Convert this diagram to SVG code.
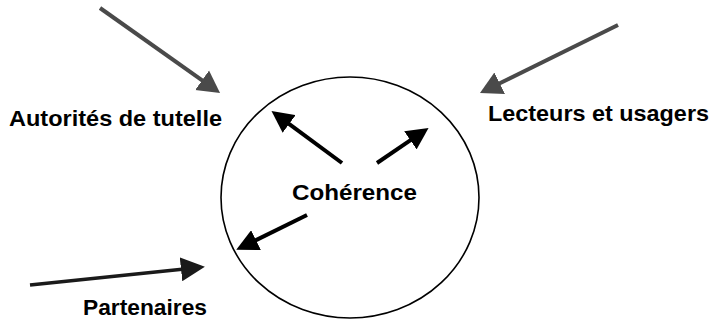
<svg xmlns="http://www.w3.org/2000/svg" width="714" height="321" viewBox="0 0 714 321">
<style>
.lbl{font-family:"Liberation Sans",Arial,sans-serif;font-weight:bold;font-size:22.5px;fill:#000}
.gray{stroke:#4a4a4a;stroke-width:4;fill:none}
.blk{stroke:#000;stroke-width:4;fill:none}
.dark{stroke:#1a1a1a;stroke-width:3.5;fill:none}
</style>
<defs>
<marker id="hg" markerUnits="userSpaceOnUse" markerWidth="24" markerHeight="26" refX="1" refY="12" orient="auto" viewBox="0 0 24 24">
<path d="M0,0 L22,12 L0,24 z" fill="#4a4a4a"/>
</marker>
<marker id="hb" markerUnits="userSpaceOnUse" markerWidth="22" markerHeight="22" refX="1" refY="10" orient="auto" viewBox="0 0 20 20">
<path d="M0,0 L20,10 L0,20 z" fill="#000"/>
</marker>
<marker id="hd" markerUnits="userSpaceOnUse" markerWidth="24" markerHeight="24" refX="1" refY="11" orient="auto" viewBox="0 0 22 22">
<path d="M0,0 L22,11 L0,22 z" fill="#1a1a1a"/>
</marker>
</defs>
<rect width="714" height="321" fill="#fff"/>
<g id="coherence">
<ellipse cx="350" cy="197.5" rx="129" ry="120.5" fill="none" stroke="#000" stroke-width="1.6"/>
<text class="lbl" x="292" y="200" textLength="125" lengthAdjust="spacingAndGlyphs">Cohérence</text>
</g>
<g id="autorites">
<text class="lbl" x="9" y="126" textLength="213" lengthAdjust="spacingAndGlyphs">Autorités de tutelle</text>
</g>
<g id="lecteurs">
<text class="lbl" x="488" y="121" textLength="221" lengthAdjust="spacingAndGlyphs">Lecteurs et usagers</text>
</g>
<g id="partenaires">
<text class="lbl" x="83" y="315" textLength="124" lengthAdjust="spacingAndGlyphs">Partenaires</text>
</g>
<g id="connectors">
<line class="gray" x1="100" y1="8" x2="202.9" y2="80.9" marker-end="url(#hg)"/>
<line class="gray" x1="618" y1="25" x2="498.8" y2="83.7" marker-end="url(#hg)"/>
<line class="blk" x1="342" y1="163" x2="288.3" y2="123.3" marker-end="url(#hb)"/>
<line class="blk" x1="377" y1="163" x2="411.3" y2="139.7" marker-end="url(#hb)"/>
<line class="blk" x1="307" y1="215" x2="255" y2="240.6" marker-end="url(#hb)"/>
<line class="dark" x1="30" y1="285" x2="182.1" y2="269.2" marker-end="url(#hd)"/>
</g>
</svg>
